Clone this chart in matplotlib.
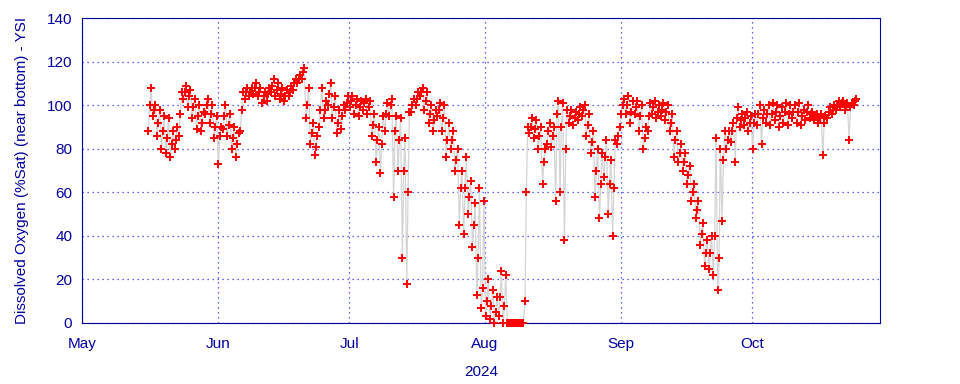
import numpy as np
import pandas as pd
import matplotlib
matplotlib.use('Agg')
import matplotlib.pyplot as plt

## data: daily low / typical / high of DO (%Sat), day 0 = May 1 2024
first_day = 15
do_low = [88, 95, 86, 80, 78, 76, 80, 86, 103, 99, 94, 89, 88, 96, 92, 85,
          73, 89, 86, 80, 76, 88, 103, 104, 105, 104, 101, 102, 106, 104, 103, 102,
          104, 107, 110, 112, 94, 82, 77, 90, 94, 100, 94, 87, 89, 98, 99, 96,
          95, 98, 96, 86, 74, 69, 88, 95, 58, 70, 30, 18, 97, 100, 104, 98,
          92, 88, 95, 88, 76, 80, 70, 45, 41, 50, 35, 13, 7, 3, 2, 0,
          3, 0, 0, 0, 0, 0, 10, 87, 85, 80, 64, 82, 81, 56, 60, 38,
          92, 91, 93, 95, 86, 78, 58, 48, 67, 50, 40, 82, 96, 96, 92, 96,
          88, 80, 88, 96, 94, 95, 93, 88, 76, 74, 70, 64, 56, 48, 36, 26,
          25, 22, 15, 47, 80, 83, 74, 90, 91, 88, 80, 91, 82, 92, 91, 93,
          90, 92, 91, 94, 92, 91, 93, 94, 93, 92, 77, 94, 96, 98, 99, 98,
          84, 100]
do_mid = [100, 98, 92, 88, 85, 82, 84, 96, 106, 104, 99, 95, 92, 100, 96, 90,
          86, 95, 91, 85, 82, 98, 106, 106, 108, 106, 104, 105, 109, 107, 105, 104,
          106, 110, 112, 115, 100, 87, 81, 98, 98, 105, 99, 92, 95, 101, 102, 100,
          99, 101, 99, 91, 84, 82, 96, 100, 88, 84, 70, 60, 100, 103, 106, 102,
          96, 93, 98, 94, 84, 84, 75, 62, 62, 58, 45, 30, 16, 10, 8, 5,
          12, 8, 0, 0, 0, 0, 60, 90, 89, 86, 74, 88, 86, 96, 90, 80,
          95, 94, 96, 98, 91, 83, 70, 64, 76, 64, 62, 86, 100, 100, 97, 99,
          95, 85, 95, 99, 97, 98, 97, 92, 84, 78, 74, 68, 60, 52, 41, 32,
          32, 40, 30, 75, 84, 88, 94, 93, 94, 92, 92, 96, 94, 96, 96, 97,
          95, 97, 96, 97, 97, 95, 97, 96, 95, 94, 92, 97, 98, 100, 101, 100,
          99, 102]
do_high = [108, 100, 98, 95, 94, 88, 90, 106, 109, 107, 103, 100, 97, 103, 100, 95,
           90, 100, 96, 90, 87, 106, 108, 108, 110, 108, 106, 108, 112, 110, 108, 107,
           109, 112, 114, 117, 108, 92, 86, 108, 102, 110, 104, 98, 100, 104, 104, 103,
           102, 103, 102, 96, 90, 95, 101, 103, 95, 94, 85, 97, 103, 106, 108, 106,
           100, 98, 101, 100, 92, 88, 80, 70, 76, 65, 55, 62, 56, 20, 15, 12,
           24, 22, 0, 0, 0, 0, 90, 94, 93, 90, 80, 92, 90, 102, 101, 98,
           98, 97, 99, 100, 96, 88, 80, 78, 84, 75, 84, 90, 103, 104, 102, 102,
           100, 90, 101, 102, 100, 101, 100, 96, 88, 82, 78, 72, 64, 56, 46, 38,
           40, 85, 80, 88, 88, 92, 99, 96, 97, 95, 96, 100, 98, 100, 101, 100,
           99, 101, 100, 100, 101, 98, 100, 97, 96, 96, 95, 99, 100, 102, 102, 101,
           101, 103]
month_labels = ['May', 'Jun', 'Jul', 'Aug', 'Sep', 'Oct']

navy = '#0000a0'
plt.rcParams['font.family'] = ['Liberation Sans', 'DejaVu Sans']
plt.rcParams['font.size'] = 11

days = np.arange(first_day, first_day + len(do_low))
t = np.column_stack([days + 0.15, days + 0.45, days + 0.75]).ravel()
vals = np.column_stack([do_low, do_mid, do_high]).ravel()
start = pd.Timestamp('2024-05-01')
when = start + pd.to_timedelta(t, unit='D')

fig = plt.figure(figsize=(9.6, 3.84), dpi=100)
ax = fig.add_axes([82 / 960, 1 - 323 / 384, 798 / 960, 305 / 384])

ax.plot(when, vals, color='#d4d4d4', lw=0.9, zorder=2)
ax.plot(when, vals, ls='none', marker='+', ms=5.5, mew=1.4, color='red',
        zorder=3, clip_on=False)

ax.set_ylim(0, 140)
ax.set_yticks(range(0, 141, 20))
ax.set_xlim(start, start + pd.Timedelta(days=182.2))
month_starts = pd.date_range('2024-05-01', periods=6, freq='MS')
ax.set_xticks(month_starts)
ax.set_xticklabels(month_labels)

ax.grid(True, color='#3030ff', ls=(0, (1, 3)), lw=0.9)
ax.set_axisbelow(True)
for s in ax.spines.values():
    s.set_color(navy)
ax.tick_params(length=0, colors=navy, labelsize=11)
ax.tick_params(axis='x', pad=10)
ax.tick_params(axis='y', pad=7)
ax.set_xlabel('2024', color=navy, labelpad=10)
ax.set_ylabel('Dissolved Oxygen (%Sat) (near bottom) - YSI', color=navy, labelpad=13)

fig.savefig('out.png', dpi=100)
